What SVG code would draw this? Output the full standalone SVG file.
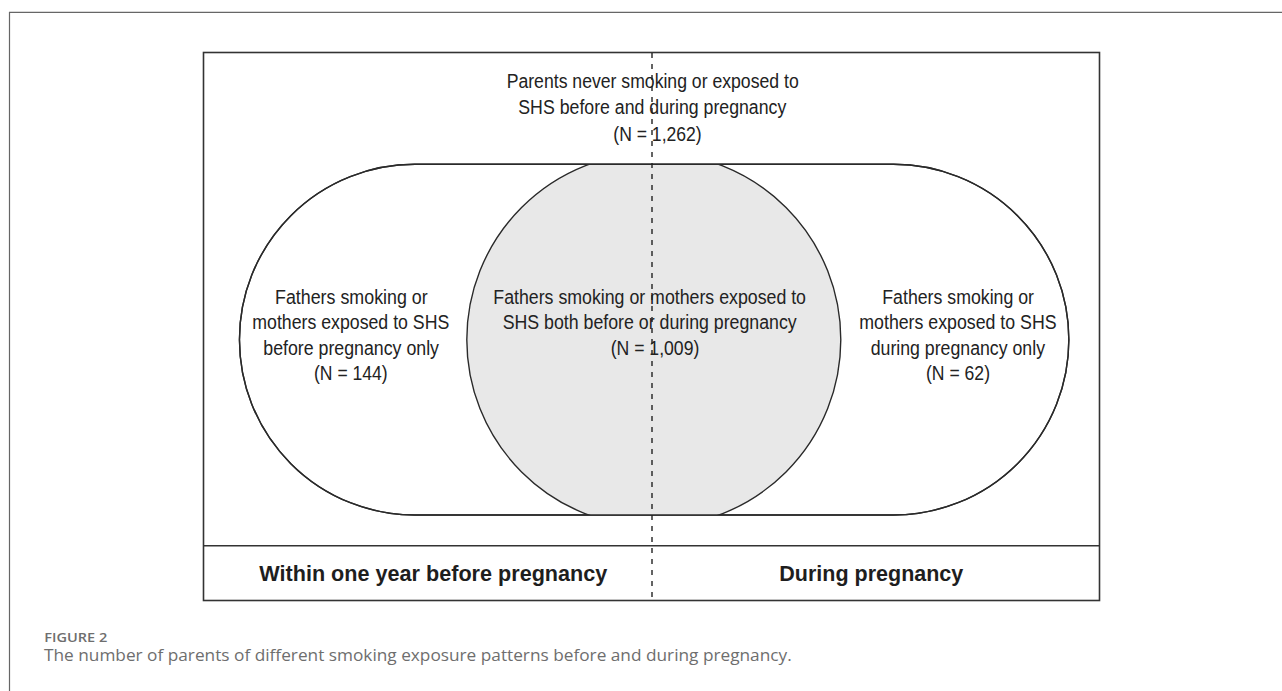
<svg xmlns="http://www.w3.org/2000/svg" width="1282" height="691" viewBox="0 0 1282 691">
  <style>
    .frame { fill: none; stroke: #666; stroke-width: 1.2; }
    .box { fill: none; stroke: #333; stroke-width: 1.6; }
    .shape { stroke: #2a2a2a; stroke-width: 1.4; }
    .dash { stroke: #222; stroke-width: 1.4; stroke-dasharray: 5 6; fill: none; }
    .lbl { font-family: "Liberation Sans", Arial, sans-serif; font-size: 20px; fill: #222; }
    .bold { font-family: "Liberation Sans", Arial, sans-serif; font-size: 21.6px; font-weight: bold; fill: #1e1e1e; }
    .capt { font-family: "Open Sans", "Liberation Sans", sans-serif; fill: #6e6e6e; }
  </style>
  <defs>
    <clipPath id="stadiumClip">
      <path d="M 414.8 164.3 H 893.5 A 175.35 175.35 0 0 1 893.5 515 H 414.8 A 175.35 175.35 0 0 1 414.8 164.3 Z"/>
    </clipPath>
  </defs>
  <rect width="1282" height="691" fill="#ffffff"/>
  <!-- outer figure frame -->
  <path class="frame" d="M 9.5 691 V 12.3 H 1282"/>

  <!-- inner panel -->
  <g id="panel">
    <rect class="box" x="203.5" y="52.5" width="896" height="548"/>
    <line class="box" x1="203.5" y1="545.8" x2="1099.5" y2="545.8"/>
  </g>

  <g id="outer-region">
    <path class="shape" fill="#ffffff" d="M 414.8 164.3 H 893.5 A 175.35 175.35 0 0 1 893.5 515 H 414.8 A 175.35 175.35 0 0 1 414.8 164.3 Z"/>
  </g>
  <g id="overlap-circle">
    <circle class="shape" cx="653.8" cy="339.7" r="187" fill="#e8e8e8" clip-path="url(#stadiumClip)"/>
  </g>
  <g id="stadium-outline">
    <path class="shape" fill="none" d="M 414.8 164.3 H 893.5 A 175.35 175.35 0 0 1 893.5 515 H 414.8 A 175.35 175.35 0 0 1 414.8 164.3 Z"/>
  </g>

  <g id="connectors">
    <line class="dash" x1="652" y1="53" x2="652" y2="600"/>
  </g>

  <g id="never-node">
    <text class="lbl" x="506.7" y="87.7" textLength="292" lengthAdjust="spacingAndGlyphs">Parents never smoking or exposed to</text>
    <text class="lbl" x="518.3" y="114.3" textLength="268" lengthAdjust="spacingAndGlyphs">SHS before and during pregnancy</text>
    <text class="lbl" x="613.3" y="140.7" textLength="88.4" lengthAdjust="spacingAndGlyphs">(N = 1,262)</text>
  </g>

  <g id="before-node">
    <text class="lbl" x="275" y="304" textLength="152.7" lengthAdjust="spacingAndGlyphs">Fathers smoking or</text>
    <text class="lbl" x="252.3" y="329.3" textLength="197" lengthAdjust="spacingAndGlyphs">mothers exposed to SHS</text>
    <text class="lbl" x="263.3" y="354.7" textLength="175.7" lengthAdjust="spacingAndGlyphs">before pregnancy only</text>
    <text class="lbl" x="314" y="380" textLength="73.7" lengthAdjust="spacingAndGlyphs">(N = 144)</text>
  </g>

  <g id="both-node">
    <text class="lbl" x="493.3" y="304" textLength="312.7" lengthAdjust="spacingAndGlyphs">Fathers smoking or mothers exposed to</text>
    <text class="lbl" x="502.7" y="329.3" textLength="294" lengthAdjust="spacingAndGlyphs">SHS both before or during pregnancy</text>
    <text class="lbl" x="610.7" y="354.7" textLength="88.6" lengthAdjust="spacingAndGlyphs">(N = 1,009)</text>
  </g>

  <g id="during-node">
    <text class="lbl" x="882.3" y="304" textLength="151.7" lengthAdjust="spacingAndGlyphs">Fathers smoking or</text>
    <text class="lbl" x="859.3" y="329.3" textLength="197.3" lengthAdjust="spacingAndGlyphs">mothers exposed to SHS</text>
    <text class="lbl" x="870.7" y="354.7" textLength="174.3" lengthAdjust="spacingAndGlyphs">during pregnancy only</text>
    <text class="lbl" x="926" y="380" textLength="64" lengthAdjust="spacingAndGlyphs">(N = 62)</text>
  </g>

  <g id="axis-labels">
    <text class="bold" x="259.3" y="580.5" textLength="348" lengthAdjust="spacingAndGlyphs">Within one year before pregnancy</text>
    <text class="bold" x="779.3" y="581" textLength="184" lengthAdjust="spacingAndGlyphs">During pregnancy</text>
  </g>

  <g id="caption">
    <text class="capt" x="44.3" y="641.7" font-size="13" font-weight="600" textLength="63" lengthAdjust="spacingAndGlyphs">FIGURE 2</text>
    <text class="capt" x="44" y="660.5" font-size="16" textLength="747.7" lengthAdjust="spacingAndGlyphs">The number of parents of different smoking exposure patterns before and during pregnancy.</text>
  </g>
</svg>
